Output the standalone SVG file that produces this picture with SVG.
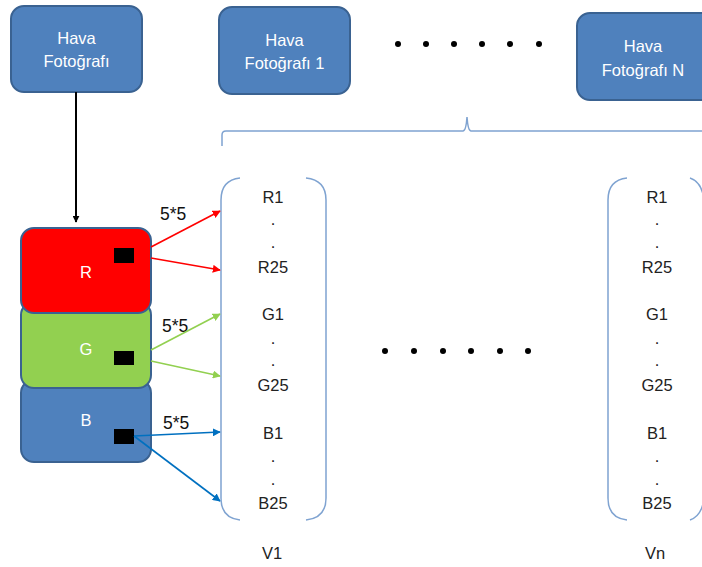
<svg xmlns="http://www.w3.org/2000/svg" width="702" height="567" viewBox="0 0 702 567">
  <defs>
    <style>
      .node { fill: #4F81BD; stroke: #3A6291; stroke-width: 2; }
      .ntext { font-family: "Liberation Sans", "Open Sans", sans-serif; font-size: 16.5px; fill: #ffffff; text-anchor: middle; }
      .ctext { font-family: "Liberation Sans", "Open Sans", sans-serif; font-size: 16.5px; fill: #222222; text-anchor: middle; }
      .lbl { font-family: "Liberation Sans", "Open Sans", sans-serif; font-size: 17.5px; fill: #111111; }
      .bracket { fill: none; stroke: #7FA3D1; stroke-width: 1.5; }
      .dot { fill: #000000; }
    </style>
    <marker id="ahBlack" viewBox="0 0 10 10" refX="9" refY="5" markerWidth="7" markerHeight="7" orient="auto" markerUnits="userSpaceOnUse">
      <path d="M0,0 L10,5 L0,10 z" fill="#000000"/>
    </marker>
    <marker id="ahRed" viewBox="0 0 10 10" refX="9" refY="5" markerWidth="8" markerHeight="8" orient="auto" markerUnits="userSpaceOnUse">
      <path d="M0,0 L10,5 L0,10 z" fill="#FF0000"/>
    </marker>
    <marker id="ahGreen" viewBox="0 0 10 10" refX="9" refY="5" markerWidth="8" markerHeight="8" orient="auto" markerUnits="userSpaceOnUse">
      <path d="M0,0 L10,5 L0,10 z" fill="#92D050"/>
    </marker>
    <marker id="ahBlue" viewBox="0 0 10 10" refX="9" refY="5" markerWidth="8" markerHeight="8" orient="auto" markerUnits="userSpaceOnUse">
      <path d="M0,0 L10,5 L0,10 z" fill="#0070C0"/>
    </marker>
  </defs>

  <rect width="702" height="567" fill="#ffffff"/>

  <!-- source photo -->
  <g id="hava-fotografi">
    <rect class="node" x="11" y="6" width="131" height="86" rx="13"/>
    <text class="ntext" x="76.5" y="44">Hava</text>
    <text class="ntext" x="76.5" y="67">Fotoğrafı</text>
  </g>

  <g id="hava-fotografi-1">
    <rect class="node" x="219" y="7" width="131" height="87" rx="13"/>
    <text class="ntext" x="284.5" y="46">Hava</text>
    <text class="ntext" x="284.5" y="69">Fotoğrafı 1</text>
  </g>

  <g id="hava-fotografi-n">
    <rect class="node" x="577" y="13" width="140" height="87" rx="13"/>
    <text class="ntext" x="643" y="52">Hava</text>
    <text class="ntext" x="643" y="76">Fotoğrafı N</text>
  </g>

  <!-- ellipsis between photos -->
  <g id="top-dots">
    <circle class="dot" cx="398" cy="44" r="3"/>
    <circle class="dot" cx="426" cy="44" r="3"/>
    <circle class="dot" cx="454" cy="44" r="3"/>
    <circle class="dot" cx="482" cy="44" r="3"/>
    <circle class="dot" cx="510" cy="44" r="3"/>
    <circle class="dot" cx="539" cy="44" r="3"/>
  </g>

  <!-- brace grouping the vectors -->
  <g id="brace">
    <path class="bracket" d="M222,146 L222,135 Q222,131 226,131 L463,131 Q466,131 467,117 Q468,131 471,131 L702,131"/>
  </g>

  <!-- colour channels -->
  <g id="channel-b">
    <rect x="21" y="380" width="130" height="82" rx="13" fill="#4F81BD" stroke="#3A6291" stroke-width="2"/>
    <text class="ntext" x="86" y="426">B</text>
    <rect x="114" y="429" width="20" height="15" fill="#000000"/>
  </g>
  <g id="channel-g">
    <rect x="21" y="302" width="130" height="86" rx="13" fill="#92D050" stroke="#3A6291" stroke-width="2"/>
    <text class="ntext" x="86" y="355">G</text>
    <rect x="114" y="351" width="20" height="14" fill="#000000"/>
  </g>
  <g id="channel-r">
    <rect x="21" y="228" width="130" height="85" rx="13" fill="#FF0000" stroke="#3A6291" stroke-width="2"/>
    <text class="ntext" x="86" y="278">R</text>
    <rect x="114" y="248" width="20" height="15" fill="#000000"/>
  </g>

  <!-- vector V1 -->
  <g id="vector-v1">
    <path class="bracket" d="M240,178 Q221,180 221,200 L221,498 Q221,518 240,520"/>
    <path class="bracket" d="M306,178 Q326,180 326,200 L326,498 Q326,518 306,520"/>
    <text class="ctext" x="273" y="203">R1</text>
    <text class="ctext" x="273" y="225">.</text>
    <text class="ctext" x="273" y="248">.</text>
    <text class="ctext" x="273" y="273">R25</text>
    <text class="ctext" x="273" y="320">G1</text>
    <text class="ctext" x="273" y="344">.</text>
    <text class="ctext" x="273" y="366">.</text>
    <text class="ctext" x="273" y="391">G25</text>
    <text class="ctext" x="273" y="439">B1</text>
    <text class="ctext" x="273" y="462">.</text>
    <text class="ctext" x="273" y="485">.</text>
    <text class="ctext" x="273" y="509">B25</text>
    <text class="ctext" x="272" y="559">V1</text>
  </g>

  <!-- vector Vn -->
  <g id="vector-vn">
    <path class="bracket" d="M627,178 Q608,180 608,200 L608,498 Q608,518 627,520"/>
    <path class="bracket" d="M690,178 Q702,182 704,200 L704,498 Q702,516 690,520"/>
    <text class="ctext" x="657" y="203">R1</text>
    <text class="ctext" x="657" y="225">.</text>
    <text class="ctext" x="657" y="248">.</text>
    <text class="ctext" x="657" y="273">R25</text>
    <text class="ctext" x="657" y="320">G1</text>
    <text class="ctext" x="657" y="344">.</text>
    <text class="ctext" x="657" y="366">.</text>
    <text class="ctext" x="657" y="391">G25</text>
    <text class="ctext" x="657" y="439">B1</text>
    <text class="ctext" x="657" y="462">.</text>
    <text class="ctext" x="657" y="485">.</text>
    <text class="ctext" x="657" y="509">B25</text>
    <text class="ctext" x="655" y="559">Vn</text>
  </g>

  <!-- ellipsis between vectors -->
  <g id="mid-dots">
    <circle class="dot" cx="385" cy="351" r="3"/>
    <circle class="dot" cx="414" cy="351" r="3"/>
    <circle class="dot" cx="443" cy="351" r="3"/>
    <circle class="dot" cx="471" cy="351" r="3"/>
    <circle class="dot" cx="500" cy="351" r="3"/>
    <circle class="dot" cx="528" cy="351" r="3"/>
  </g>

  <!-- patch size labels -->
  <g id="labels">
    <text class="lbl" x="160" y="220">5*5</text>
    <text class="lbl" x="162" y="332">5*5</text>
    <text class="lbl" x="163" y="429">5*5</text>
  </g>

  <!-- connectors -->
  <g id="connectors" fill="none" stroke-width="1.6">
    <line x1="76" y1="92" x2="76" y2="222" stroke="#000000" stroke-width="2" marker-end="url(#ahBlack)"/>
    <line x1="151" y1="247" x2="220" y2="211" stroke="#FF0000" marker-end="url(#ahRed)"/>
    <line x1="151" y1="258" x2="220" y2="270" stroke="#FF0000" marker-end="url(#ahRed)"/>
    <line x1="151" y1="350" x2="220" y2="314" stroke="#92D050" marker-end="url(#ahGreen)"/>
    <line x1="151" y1="361" x2="220" y2="376" stroke="#92D050" marker-end="url(#ahGreen)"/>
    <line x1="134" y1="436" x2="220" y2="432" stroke="#0070C0" marker-end="url(#ahBlue)"/>
    <line x1="134" y1="436" x2="220" y2="501" stroke="#0070C0" marker-end="url(#ahBlue)"/>
  </g>
</svg>
